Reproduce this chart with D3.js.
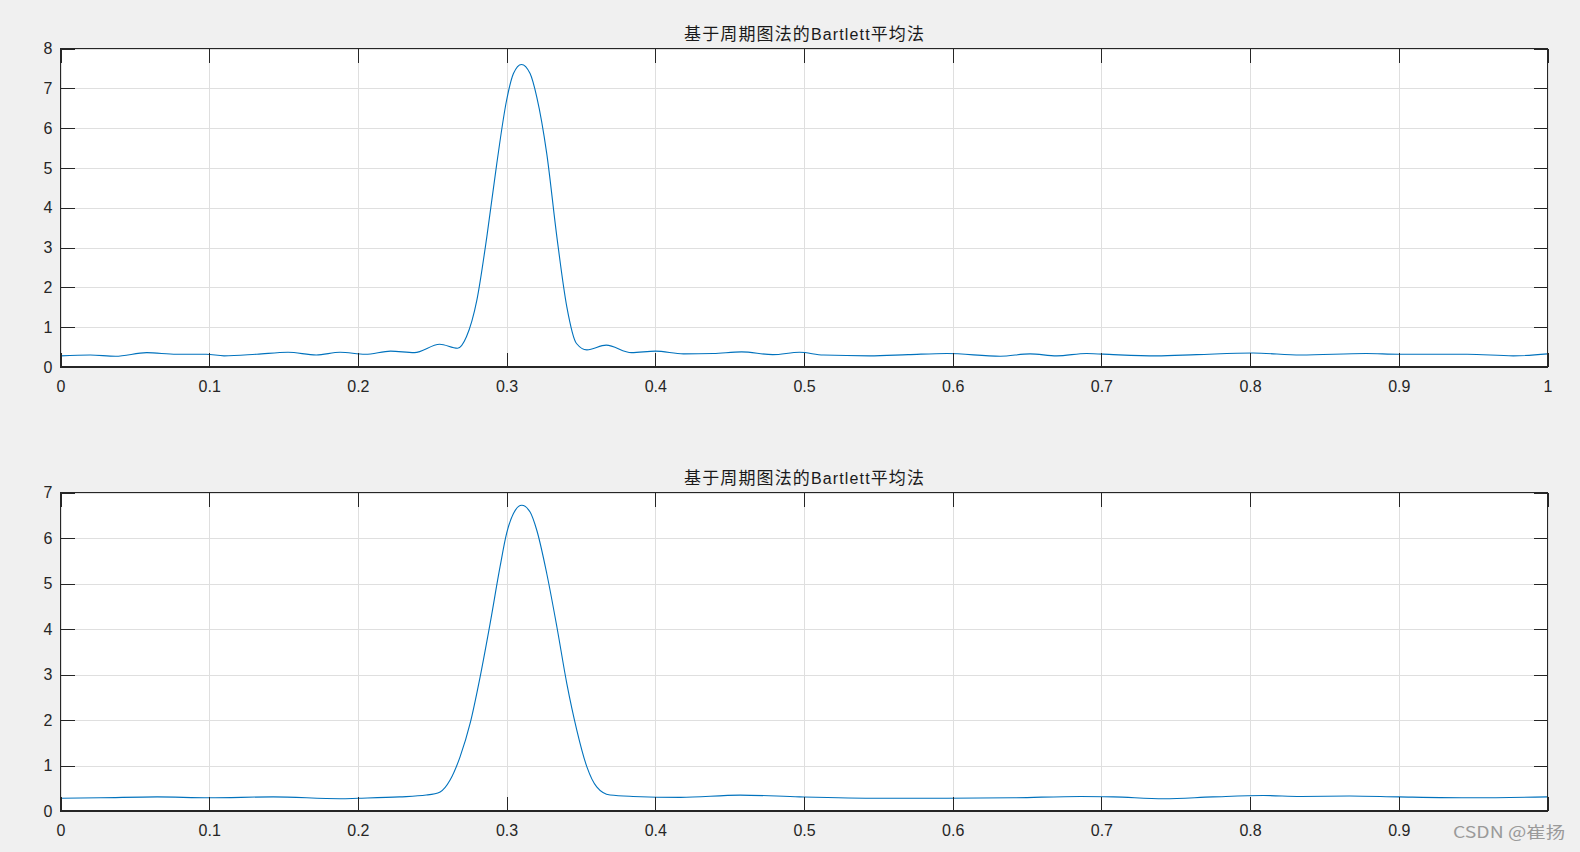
<!DOCTYPE html>
<html>
<head>
<meta charset="utf-8">
<script src="https://cdn.jsdelivr.net/npm/d3@7"></script>
<style>
  html, body { margin: 0; padding: 0; background: #f0f0f0; }
  svg { display: block; }
</style>
</head>
<body>
<svg id="chart" width="1580" height="852"></svg>
<script>
// ---------------- data ----------------
const titleText = ["基于周期图法的", "Bartlett", "平均法"];
const xTicks = [0, 0.1, 0.2, 0.3, 0.4, 0.5, 0.6, 0.7, 0.8, 0.9, 1];
const yTicksTop = [0, 1, 2, 3, 4, 5, 6, 7, 8];
const yTicksBottom = [0, 1, 2, 3, 4, 5, 6, 7];

const freqTop = [0, 0.02, 0.037, 0.058, 0.078, 0.098, 0.11, 0.132, 0.153, 0.172, 0.188, 0.205, 0.222, 0.238, 0.255, 0.267,
  0.273, 0.280, 0.2867, 0.2934, 0.300, 0.3046, 0.310, 0.3158, 0.3203, 0.327, 0.3338, 0.3405, 0.347, 0.354, 0.367,
  0.384, 0.40, 0.419, 0.439, 0.458, 0.479, 0.497, 0.513, 0.544, 0.57, 0.596, 0.632, 0.652, 0.670, 0.690, 0.708,
  0.737, 0.764, 0.802, 0.834, 0.878, 0.90, 0.946, 0.977, 1.0];
const psdTop = [0.28, 0.30, 0.27, 0.36, 0.32, 0.32, 0.28, 0.32, 0.37, 0.30, 0.37, 0.32, 0.40, 0.36, 0.57, 0.47,
  0.76, 1.68, 3.27, 5.11, 6.70, 7.37, 7.60, 7.37, 6.78, 5.36, 3.27, 1.51, 0.59, 0.43, 0.55,
  0.36, 0.40, 0.33, 0.34, 0.38, 0.31, 0.37, 0.30, 0.28, 0.31, 0.34, 0.27, 0.33, 0.28, 0.34, 0.31,
  0.28, 0.31, 0.35, 0.30, 0.34, 0.32, 0.32, 0.28, 0.33];

const freqBottom = [0, 0.027, 0.065, 0.10, 0.143, 0.188, 0.2, 0.228, 0.246, 0.2553, 0.262, 0.2687, 0.2755, 0.2822,
  0.2889, 0.2956, 0.300, 0.3046, 0.3102, 0.3158, 0.3203, 0.327, 0.3338, 0.3405, 0.3472, 0.354, 0.3606, 0.3696,
  0.385, 0.417, 0.457, 0.497, 0.551, 0.596, 0.641, 0.686, 0.708, 0.742, 0.775, 0.809, 0.834, 0.867, 0.90, 0.95, 1.0];
const psdBottom = [0.28, 0.29, 0.31, 0.29, 0.31, 0.27, 0.28, 0.31, 0.35, 0.42, 0.68, 1.19, 1.93, 2.95,
  4.12, 5.37, 6.10, 6.54, 6.72, 6.57, 6.17, 5.22, 4.05, 2.80, 1.78, 0.97, 0.53, 0.35,
  0.32, 0.30, 0.35, 0.31, 0.28, 0.28, 0.29, 0.32, 0.31, 0.27, 0.31, 0.34, 0.32, 0.33, 0.31, 0.29, 0.31];

const watermark = "CSDN @崔扬";

// ---------------- drawing ----------------
const svg = d3.select("#chart");
const axisColor = "#262626";
const gridColor = "#dfdfdf";
const lineColor = "#0072BD";
const latinFont = "'Liberation Sans', Arial, sans-serif";
const cjkFont = "'Noto Sans CJK SC', 'Liberation Sans', sans-serif";

function panel(opts) {
  const {left, right, top, bottom, yMax, yTicks, xLabels, freq, psd, titleBaseline} = opts;
  const x = d3.scaleLinear().domain([0, 1]).range([left, right]);
  const y = d3.scaleLinear().domain([0, yMax]).range([bottom, top]);
  const g = svg.append("g");

  g.append("rect").attr("x", left).attr("y", top)
    .attr("width", right - left).attr("height", bottom - top).attr("fill", "#ffffff");

  // grid
  g.append("g").attr("transform", `translate(0,${bottom})`)
    .call(d3.axisBottom(x).tickValues(xTicks).tickSize(-(bottom - top)).tickFormat(""))
    .call(s => s.select(".domain").remove())
    .call(s => s.selectAll("line").attr("stroke", gridColor).attr("shape-rendering", "crispEdges"));
  g.append("g").attr("transform", `translate(${left},0)`)
    .call(d3.axisLeft(y).tickValues(yTicks).tickSize(-(right - left)).tickFormat(""))
    .call(s => s.select(".domain").remove())
    .call(s => s.selectAll("line").attr("stroke", gridColor).attr("shape-rendering", "crispEdges"));

  // curve
  const line = d3.line().x((d, i) => x(freq[i])).y(d => y(d)).curve(d3.curveMonotoneX);
  g.append("path").datum(psd).attr("d", line)
    .attr("fill", "none").attr("stroke", lineColor).attr("stroke-width", 1.1);

  const tl = 14;
  // inner ticks on all four sides
  const axB = g.append("g").attr("transform", `translate(0,${bottom})`)
    .call(d3.axisBottom(x).tickValues(xTicks).tickSize(-tl).tickPadding(14)
      .tickFormat(d => xLabels.includes(d) ? String(d) : ""));
  const axT = g.append("g").attr("transform", `translate(0,${top})`)
    .call(d3.axisTop(x).tickValues(xTicks).tickSize(-tl).tickFormat(""));
  const axL = g.append("g").attr("transform", `translate(${left},0)`)
    .call(d3.axisLeft(y).tickValues(yTicks).tickSize(-tl).tickPadding(8).tickFormat(d3.format("d")));
  const axR = g.append("g").attr("transform", `translate(${right},0)`)
    .call(d3.axisRight(y).tickValues(yTicks).tickSize(-tl).tickFormat(""));
  [axB, axT, axL, axR].forEach(a => {
    a.attr("font-size", 16).attr("font-family", latinFont);
    a.select(".domain").remove();
    a.selectAll("line").attr("stroke", axisColor).attr("shape-rendering", "crispEdges");
    a.selectAll("text").attr("fill", axisColor);
  });
  axB.selectAll("text").attr("dy", "0.71em");

  // box
  g.append("rect").attr("x", left).attr("y", top)
    .attr("width", right - left).attr("height", bottom - top)
    .attr("fill", "none").attr("stroke", axisColor).attr("stroke-width", 1.3)
    .attr("shape-rendering", "crispEdges");

  // title
  const t = g.append("text").attr("x", (left + right) / 2).attr("y", titleBaseline)
    .attr("text-anchor", "middle").attr("fill", "#1a1a1a")
    .attr("textLength", 240).attr("lengthAdjust", "spacing");
  t.append("tspan").text(titleText[0]).style("font-family", cjkFont).style("font-size", "17px");
  t.append("tspan").text(titleText[1]).style("font-family", latinFont).style("font-size", "16px");
  t.append("tspan").text(titleText[2]).style("font-family", cjkFont).style("font-size", "17px");
}

panel({left: 60.5, right: 1547.5, top: 48.5, bottom: 367, yMax: 8, yTicks: yTicksTop,
  xLabels: xTicks, freq: freqTop, psd: psdTop, titleBaseline: 40});
panel({left: 60.5, right: 1547.5, top: 492.5, bottom: 811, yMax: 7, yTicks: yTicksBottom,
  xLabels: xTicks.slice(0, 10), freq: freqBottom, psd: psdBottom, titleBaseline: 484});

svg.append("text").attr("x", 1453).attr("y", 838).text(watermark)
  .attr("fill", "#9a9a9a").attr("textLength", 112).attr("lengthAdjust", "spacingAndGlyphs")
  .style("font-family", "'Noto Sans CJK SC', sans-serif").style("font-size", "16px");
</script>
</body>
</html>
